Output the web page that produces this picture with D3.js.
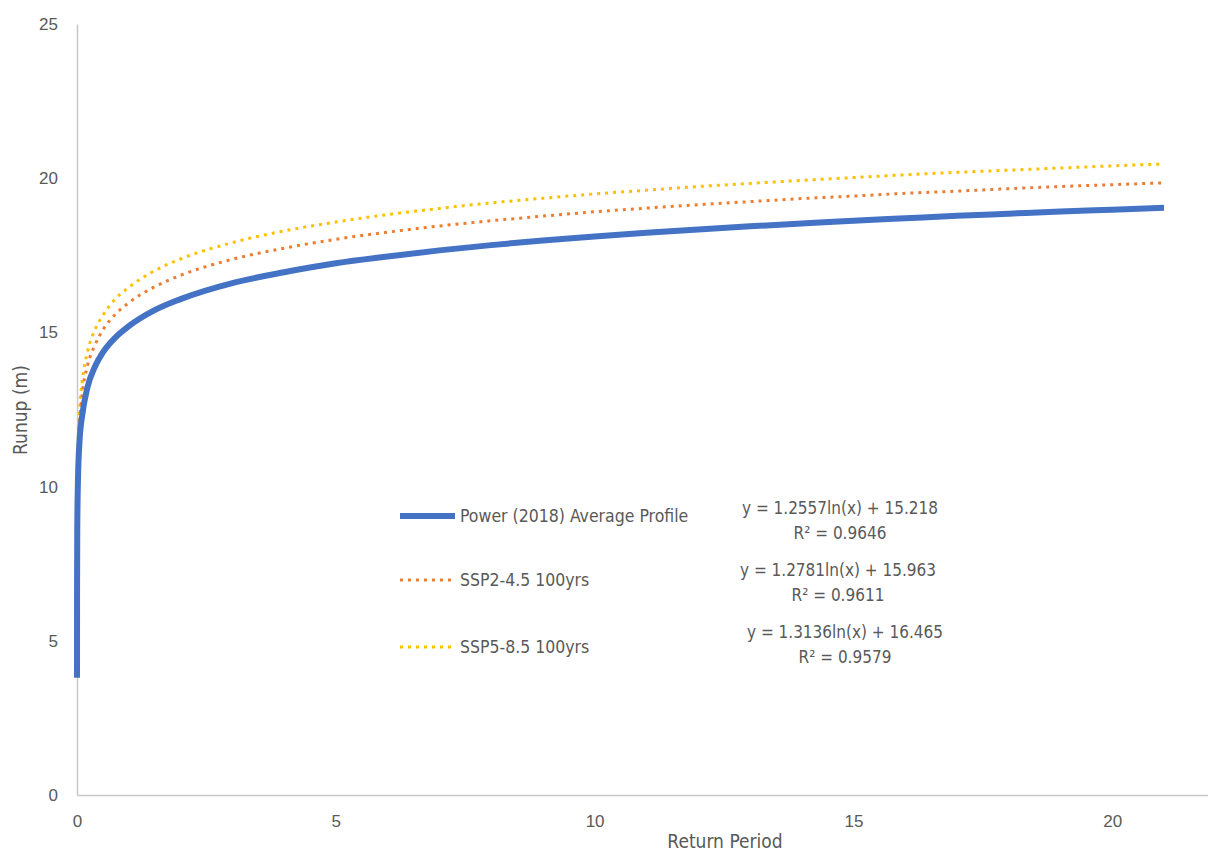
<!DOCTYPE html>
<html>
<head>
<meta charset="utf-8">
<script src="https://cdn.jsdelivr.net/npm/d3@7"></script>
<style>
  body { margin:0; background:#fff; }
  svg { display:block; font-family:"Liberation Sans Narrow","DejaVu Sans Condensed",sans-serif; }
  .tick text, .lbl { fill:#595959; }
</style>
</head>
<body>
<script>
// values
const returnPeriod = [0.0002,0.001,0.005,0.02,0.05,0.1,0.2,0.35,0.5,0.75,1,1.5,2,3,4,5,6,7,8,9,10,11,12,13,14,15,16,17,18,19,20,21]
const power2018 = [3.8,6.5,8.6,10.3,11.5,12.3,13.2,13.9,14.35,14.85,15.2,15.72,16.08,16.6,16.95,17.24,17.46,17.66,17.83,17.98,18.11,18.23,18.34,18.44,18.53,18.62,18.7,18.78,18.85,18.92,18.98,19.04]
const ssp245 = [4.6,7.1,9.2,11.0,12.1,13.0,13.9,14.6,15.08,15.6,15.96,16.48,16.85,17.37,17.73,18.02,18.25,18.45,18.62,18.77,18.91,19.03,19.14,19.24,19.34,19.42,19.51,19.58,19.66,19.73,19.79,19.85]
const ssp585 = [4.8,7.4,9.5,11.3,12.5,13.4,14.35,15.1,15.55,16.1,16.46,17.0,17.38,17.91,18.29,18.58,18.82,19.02,19.2,19.35,19.49,19.61,19.73,19.83,19.93,20.02,20.11,20.19,20.26,20.33,20.4,20.46]
const seriesNames = ['Power (2018) Average Profile','SSP2-4.5 100yrs','SSP5-8.5 100yrs']
const trendEq = ['y = 1.2557ln(x) + 15.218','y = 1.2781ln(x) + 15.963','y = 1.3136ln(x) + 16.465']
const trendR2 = ['0.9646','0.9611','0.9579']
const xTicks = [0,5,10,15,20]
const yTicks = [0,5,10,15,20,25]

const W = 1208, H = 854
const svg = d3.select('body').append('svg').attr('width',W).attr('height',H)

const x = d3.scaleLinear().domain([0,21.85]).range([77,1208])
const y = d3.scaleLinear().domain([0,25]).range([795,24])

// axes
const xAxis = svg.append('g').attr('transform',`translate(0,${y(0)})`)
  .call(d3.axisBottom(x).tickValues(xTicks).tickSize(0).tickPadding(20))
const yAxis = svg.append('g').attr('transform',`translate(${x(0)},0)`)
  .call(d3.axisLeft(y).tickValues(yTicks).tickSize(0).tickPadding(19))
;[xAxis,yAxis].forEach(a => {
  a.select('.domain').attr('stroke','#c8c8c8').attr('stroke-width',1.5)
  a.selectAll('.tick text').style('font-size','17px')
})

const series = [
  {name:seriesNames[0], vals:power2018, color:'#4472C4', width:6, dash:null},
  {name:seriesNames[1], vals:ssp245, color:'#ED7D31', width:3, dash:'3,5'},
  {name:seriesNames[2], vals:ssp585, color:'#FFC000', width:3, dash:'3,5'},
]

const line = d3.line().x(d => x(d[0])).y(d => y(d[1])).curve(d3.curveMonotoneX)

svg.append('g').selectAll('path')
  .data(series.slice().reverse())
  .enter().append('path')
    .attr('fill','none')
    .attr('stroke',s => s.color)
    .attr('stroke-width',s => s.width)
    .attr('stroke-dasharray',s => s.dash)
    .attr('d',s => line(returnPeriod.map((r,i) => [r,s.vals[i]])))

// legend
const legY = [516,580,647]
const leg = svg.append('g').selectAll('g').data(series).enter().append('g')
  .attr('transform',(s,i) => `translate(400,${legY[i]})`)
leg.append('line').attr('x1',0).attr('x2',55)
  .attr('stroke',s => s.color).attr('stroke-width',s => s.width)
  .attr('stroke-dasharray',s => s.dash)
leg.append('text').attr('class','lbl').attr('x',60).attr('dy','0.35em')
  .style('font-size','17.5px').text(s => s.name)

// trendline labels
const eqX = [840,838,845], eqY = [508,570,632]
const eq = svg.append('g').selectAll('text').data(trendEq).enter().append('text')
  .attr('class','lbl').attr('text-anchor','middle').style('font-size','17px')
  .attr('x',(d,i) => eqX[i]).attr('y',(d,i) => eqY[i]).attr('dy','0.35em')
eq.append('tspan').text(d => d)
eq.append('tspan').attr('x',(d,i) => eqX[i]).attr('dy','1.45em')
  .text((d,i) => 'R² = ' + trendR2[i])

// axis titles
svg.append('text').attr('class','lbl').attr('text-anchor','middle')
  .attr('x',725).attr('y',841).attr('dy','0.35em').style('font-size','19px').text('Return Period')
svg.append('text').attr('class','lbl').attr('text-anchor','middle')
  .attr('transform','translate(20,410) rotate(-90)').attr('dy','0.35em')
  .style('font-size','19px').text('Runup (m)')
</script>
</body>
</html>
